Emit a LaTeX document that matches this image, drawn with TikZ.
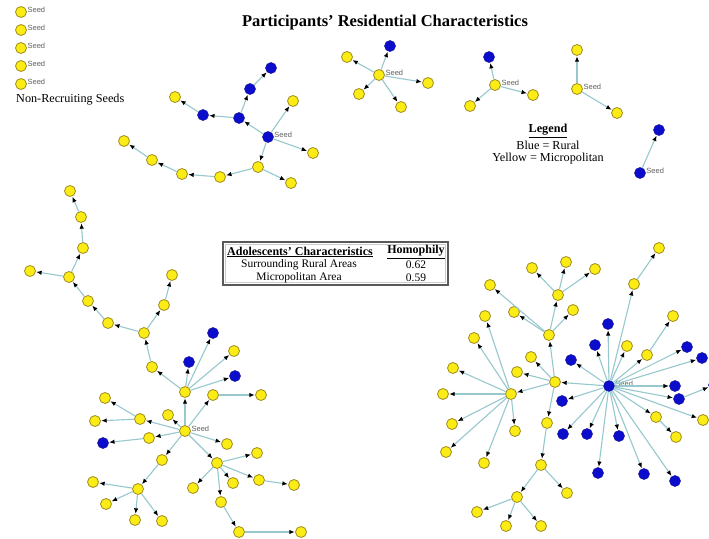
\documentclass[tikz,border=0pt]{standalone}
\usepackage{fontspec}
\setmainfont{Liberation Serif}
\setsansfont{Liberation Sans}
\usetikzlibrary{arrows.meta}
\definecolor{yfill}{RGB}{250,236,20}
\definecolor{yline}{RGB}{160,140,30}
\definecolor{bfill}{RGB}{12,12,205}
\definecolor{bline}{RGB}{20,20,150}
\definecolor{edgec}{RGB}{150,200,206}
\definecolor{seedtxt}{RGB}{95,95,95}
\begin{document}
\begin{tikzpicture}[x=1pt,y=-1pt,
  yn/.style={circle,fill=yfill,draw=yline,line width=0.8pt,inner sep=0pt,minimum size=11pt},
  bn/.style={circle,fill=bfill,draw=bline,line width=0.5pt,inner sep=0pt,minimum size=11pt},
  seedlbl/.style={font=\sffamily\fontsize{7.5}{8}\selectfont,text=seedtxt,inner sep=0.5pt,yshift=2pt},
  seedtag/.style={label={[seedlbl]0:Seed}},
  conn/.style={draw=edgec,line width=1.1pt,shorten >=0.3pt,-{Latex[length=5.5pt,width=4.5pt,color=black]}},
  capt/.style={font=\fontsize{12.2}{14}\selectfont,inner sep=0pt},
  tabtxt/.style={font=\fontsize{11.5}{13}\selectfont,inner sep=0pt},
  tabhead/.style={font=\bfseries\fontsize{12}{14}\selectfont,inner sep=0pt}]
\useasboundingbox[fill=white] (0,0) rectangle (709,538);

% ---- title and captions ----
\node[font=\bfseries\fontsize{16.5}{19}\selectfont,inner sep=0pt] (title) at (385,23) {Participants' Residential Characteristics};
\node[capt,anchor=west] (nrs) at (16,100) {Non-Recruiting Seeds};
\node[capt,font=\bfseries\fontsize{12.2}{14}\selectfont] (leg) at (548,131) {\underline{Legend}};
\node[capt] (leg1) at (548,145) {Blue = Rural};
\node[capt] (leg2) at (548,159) {Yellow = Micropolitan};

% ---- homophily table ----
\draw[draw=gray!70!black,line width=1.6pt] (223,242) rectangle (448,285);
\draw[draw=gray!40,line width=0.5pt] (225.5,244.5) rectangle (445.5,282.5);
\node[tabhead] (th1) at (300,252) {\underline{Adolescents' Characteristics}};
\node[tabhead] (th2) at (416,252) {\underline{Homophily}};
\node[tabtxt] (r1a) at (299,265) {Surrounding Rural Areas};
\node[tabtxt] (r1b) at (416,265) {0.62};
\node[tabtxt] (r2a) at (299,278) {Micropolitan Area};
\node[tabtxt] (r2b) at (416,278) {0.59};

% ---- non-recruiting seeds ----
\foreach \n/\yy in {s1/12,s2/30,s3/48,s4/66,s5/84}
  \node[yn,seedtag] (\n) at (21,\yy) {};

% ---- seed nodes ----
\node[bn,seedtag] (a0) at (268,137) {};
\node[yn,seedtag] (b0) at (379,75) {};
\node[yn,seedtag] (c0) at (495,85) {};
\node[yn,seedtag] (d0) at (577,89) {};
\node[bn,seedtag] (e0) at (640,173) {};
\node[yn,seedtag] (f0) at (185,431) {};
\node[bn,seedtag] (g0) at (609,386) {};

% ---- recruits: blue (rural) ----
\foreach \n/\x/\y in {a1/239/118,a2/250/89,a3/271/68,a4/203/115,
  b1/390/46,c1/489/57,e1/659/130,
  f11/103/443,f18/189/362,f19/213/333,f21/235/376,
  g28/608/324,g29/595/345,g30/571/360,g31/562/401,g32/563/434,g33/587/434,
  g34/619/436,g35/598/473,g36/644/474,g37/675/481,g38/675/386,g39/679/399,
  g40/687/347,g41/702/358,g42/714/385}
  \node[bn] (\n) at (\x,\y) {};

% ---- recruits: yellow (micropolitan) ----
\foreach \n/\x/\y in {a5/175/97,a6/293/101,a7/313/153,a8/258/167,a9/220/177,
  a10/182/174,a11/152/160,a12/124/141,a13/291/183,
  b2/347/57,b3/428/83,b4/359/94,b5/401/107,
  c2/533/95,c3/470/106,d1/577/50,d2/617/113,
  f1/185/392,f2/168/415,f3/140/419,f4/149/438,f5/162/460,f6/213/395,f7/227/444,
  f8/217/463,f9/105/398,f10/95/421,f12/138/489,f13/93/482,f14/106/504,
  f15/135/520,f16/162/521,f17/152/367,f20/234/351,f22/261/395,f23/257/453,
  f24/259/480,f25/233/483,f26/193/488,f27/221/502,f28/294/485,f29/239/532,
  f30/301/532,f31/144/333,f32/108/323,f33/88/301,f34/69/277,f35/83/248,
  f36/81/217,f37/70/191,f38/30/271,f39/164/305,f40/172/275,
  g1/555/382,g2/549/335,g3/558/295,g4/532/268,g5/566/262,g6/595/269,
  g7/573/310,g8/514/312,g9/490/285,g10/531/357,g11/517/372,g12/511/394,
  g13/443/394,g14/453/368,g15/474/338,g16/485/316,g17/452/424,g18/446/452,
  g19/484/463,g20/515/431,g21/547/423,g22/541/465,g23/567/493,g24/517/497,
  g25/477/512,g26/506/526,g27/541/526,g43/634/284,g44/659/248,g45/627/346,
  g46/647/355,g47/673/316,g48/656/417,g49/676/437,g50/703/420}
  \node[yn] (\n) at (\x,\y) {};

% ---- recruitment links ----
\foreach \s/\t in {a0/a1,a0/a6,a0/a7,a0/a8,a1/a2,a2/a3,a1/a4,a4/a5,
  a8/a9,a9/a10,a10/a11,a11/a12,a8/a13,
  b0/b1,b0/b2,b0/b3,b0/b4,b0/b5,c0/c1,c0/c2,c0/c3,d0/d1,d0/d2,e0/e1,
  f0/f1,f0/f2,f0/f3,f0/f4,f0/f5,f0/f6,f0/f7,f0/f8,f3/f9,f3/f10,f4/f11,
  f5/f12,f12/f13,f12/f14,f12/f15,f12/f16,f1/f17,f1/f18,f1/f19,f1/f20,f1/f21,
  f6/f22,f8/f23,f8/f24,f8/f25,f8/f26,f8/f27,f24/f28,f27/f29,f29/f30,
  f17/f31,f31/f32,f32/f33,f33/f34,f34/f35,f35/f36,f36/f37,f34/f38,f31/f39,f39/f40,
  g0/g1,g1/g2,g2/g3,g3/g4,g3/g5,g3/g6,g2/g7,g2/g8,g2/g9,g1/g10,g1/g11,g1/g12,
  g12/g13,g12/g14,g12/g15,g12/g16,g12/g17,g12/g18,g12/g19,g12/g20,
  g1/g21,g21/g22,g22/g23,g22/g24,g24/g25,g24/g26,g24/g27,
  g0/g28,g0/g29,g0/g30,g0/g31,g0/g32,g0/g33,g0/g34,g0/g35,g0/g36,g0/g37,
  g0/g38,g0/g39,g0/g40,g0/g41,g39/g42,g0/g43,g43/g44,g0/g45,g0/g46,g46/g47,
  g0/g48,g48/g49,g0/g50}
  \draw[conn] (\s) -- (\t);
\end{tikzpicture}
\end{document}
